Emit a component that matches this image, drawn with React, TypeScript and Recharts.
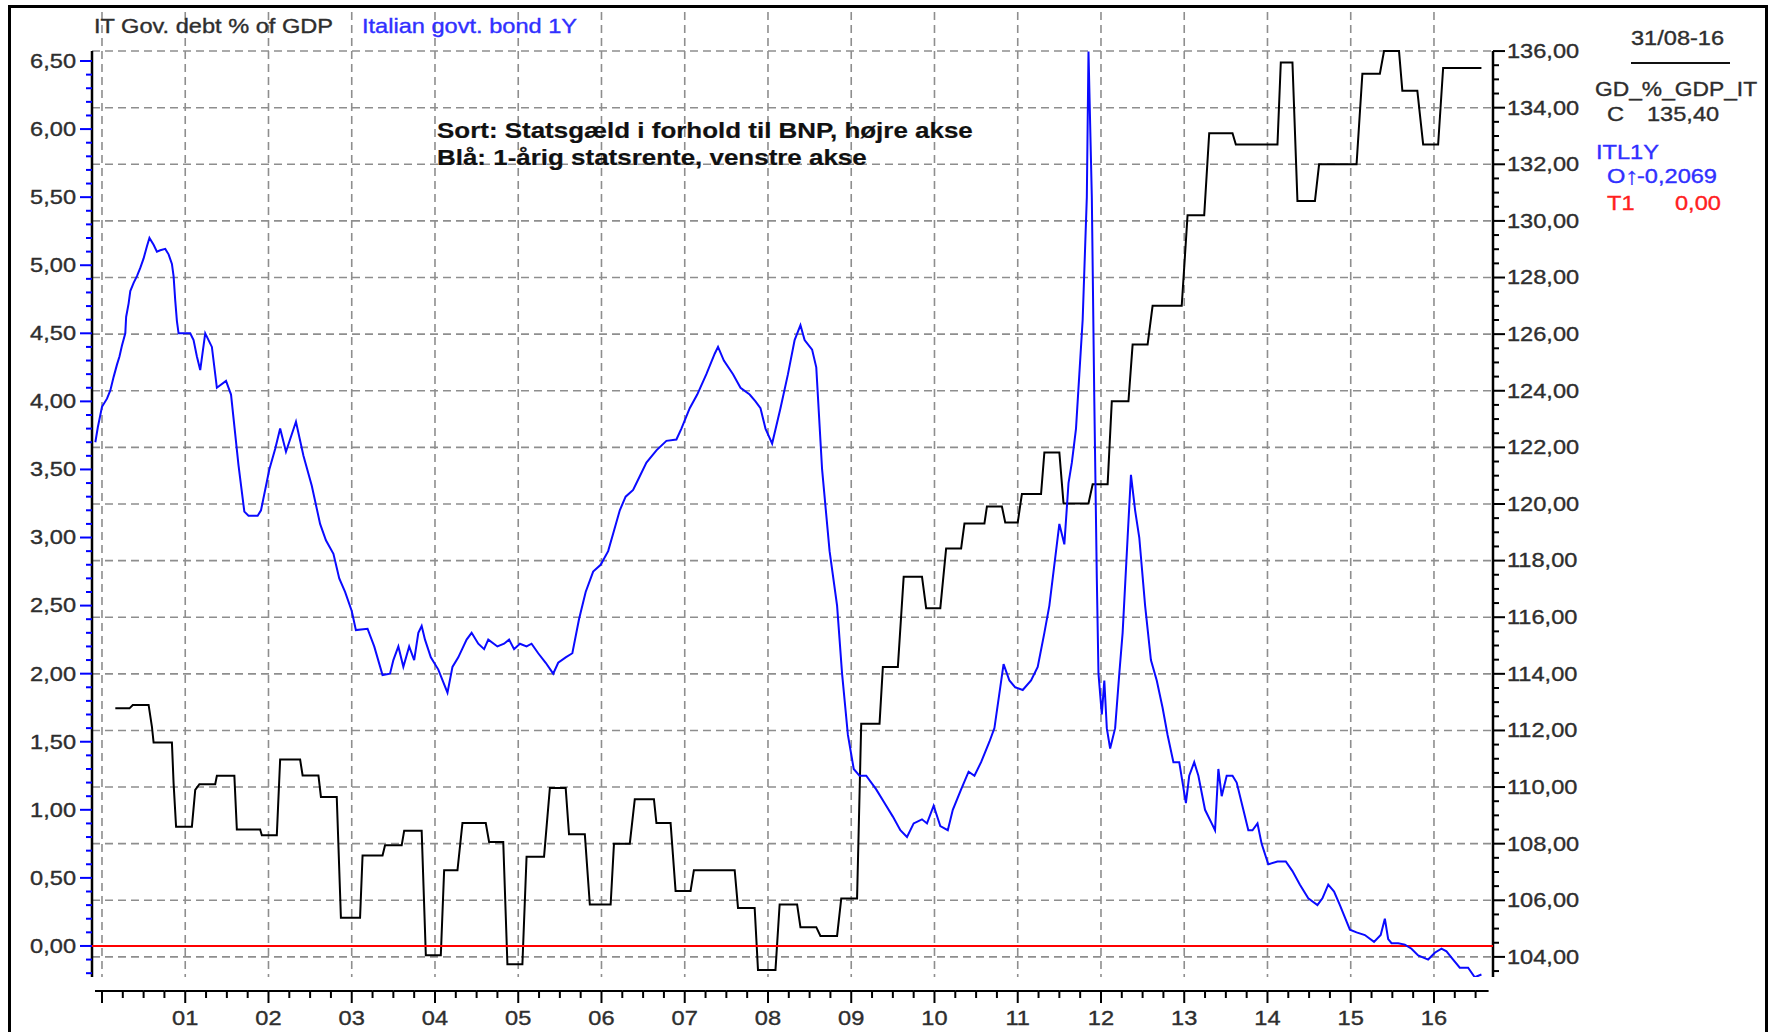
import React from 'react';
import { ComposedChart, Line, XAxis, YAxis, CartesianGrid, ReferenceLine } from 'recharts';

// ---------------- Data ----------------
// Italian govt. bond 1Y yield (left axis, %), time in decimal years
const bondDates = [
  1999.92, 1999.95, 2000.0, 2000.06, 2000.1, 2000.14, 2000.18, 2000.21, 2000.24, 2000.28, 2000.29, 2000.32,
  2000.34, 2000.38, 2000.42, 2000.46, 2000.5, 2000.54, 2000.57, 2000.62, 2000.66, 2000.7, 2000.76, 2000.8,
  2000.84, 2000.86, 2000.88, 2000.9, 2000.92, 2000.98, 2001.06, 2001.1, 2001.14, 2001.18, 2001.24, 2001.32,
  2001.38, 2001.49, 2001.55, 2001.64, 2001.71, 2001.76, 2001.87, 2001.91, 2002.01, 2002.08, 2002.14, 2002.21,
  2002.33, 2002.42, 2002.52, 2002.62, 2002.69, 2002.78, 2002.85, 2002.92, 2003.0, 2003.05, 2003.19, 2003.27,
  2003.37, 2003.46, 2003.5, 2003.56, 2003.62, 2003.69, 2003.75, 2003.8, 2003.84, 2003.88, 2003.95, 2004.04,
  2004.15, 2004.21, 2004.28, 2004.38, 2004.44, 2004.52, 2004.59, 2004.64, 2004.75, 2004.83, 2004.89, 2004.95,
  2005.02, 2005.1, 2005.16, 2005.24, 2005.33, 2005.42, 2005.48, 2005.57, 2005.65, 2005.73, 2005.81, 2005.9,
  2005.99, 2006.08, 2006.15, 2006.22, 2006.29, 2006.38, 2006.46, 2006.54, 2006.66, 2006.78, 2006.9, 2006.96,
  2007.06, 2007.15, 2007.26, 2007.36, 2007.4, 2007.47, 2007.58, 2007.67, 2007.78, 2007.85, 2007.91, 2007.97,
  2008.05, 2008.15, 2008.24, 2008.32, 2008.39, 2008.44, 2008.53, 2008.58, 2008.65, 2008.74, 2008.83, 2008.89,
  2008.96, 2009.03, 2009.1, 2009.18, 2009.3, 2009.4, 2009.5, 2009.59, 2009.67, 2009.75, 2009.85, 2009.91,
  2009.99, 2010.07, 2010.16, 2010.22, 2010.32, 2010.41, 2010.48, 2010.56, 2010.66, 2010.72, 2010.79, 2010.83,
  2010.9, 2010.97, 2011.06, 2011.16, 2011.24, 2011.32, 2011.38, 2011.46, 2011.5, 2011.56, 2011.61, 2011.65,
  2011.7, 2011.74, 2011.78, 2011.83, 2011.85, 2011.89, 2011.92, 2011.95, 2011.97, 2012.01, 2012.04, 2012.07,
  2012.11, 2012.17, 2012.22, 2012.26, 2012.32, 2012.36, 2012.41, 2012.46, 2012.53, 2012.6, 2012.67, 2012.74,
  2012.8, 2012.87, 2012.94, 2012.98, 2013.02, 2013.06, 2013.12, 2013.17, 2013.25, 2013.33, 2013.37, 2013.41,
  2013.45, 2013.51, 2013.58, 2013.63, 2013.71, 2013.77, 2013.82, 2013.88, 2013.93, 2014.01, 2014.12, 2014.22,
  2014.3, 2014.39, 2014.49, 2014.6, 2014.66, 2014.73, 2014.8, 2014.87, 2014.99, 2015.07, 2015.17, 2015.28,
  2015.36, 2015.41, 2015.45, 2015.49, 2015.57, 2015.65, 2015.73, 2015.81, 2015.93, 2016.01, 2016.09, 2016.15,
  2016.23, 2016.31, 2016.41, 2016.49, 2016.57,
];
const bondYields = [
  3.7, 3.81, 3.96, 4.02, 4.08, 4.18, 4.27, 4.33, 4.41, 4.5, 4.62, 4.72,
  4.81, 4.87, 4.92, 4.98, 5.05, 5.14, 5.2, 5.15, 5.1, 5.11, 5.12, 5.08,
  5.01, 4.92, 4.74, 4.59, 4.5, 4.5, 4.5, 4.45, 4.33, 4.23, 4.5, 4.4,
  4.1, 4.15, 4.05, 3.53, 3.19, 3.16, 3.16, 3.2, 3.5, 3.65, 3.8, 3.63,
  3.85, 3.6, 3.38, 3.1, 2.98, 2.88, 2.7, 2.6, 2.46, 2.32, 2.33, 2.2,
  1.99, 2.0, 2.1, 2.2, 2.05, 2.2, 2.1, 2.3, 2.35, 2.25, 2.12, 2.03,
  1.86, 2.05, 2.12, 2.25, 2.3, 2.22, 2.18, 2.25, 2.2, 2.22, 2.25, 2.18,
  2.22, 2.2, 2.22, 2.15, 2.08, 2.0, 2.08, 2.12, 2.15, 2.4, 2.6, 2.75,
  2.8, 2.9, 3.05, 3.2, 3.3, 3.35, 3.45, 3.55, 3.64, 3.71, 3.72, 3.8,
  3.95, 4.05, 4.2, 4.35, 4.4, 4.3, 4.2, 4.1, 4.05, 4.0, 3.95, 3.8,
  3.69, 3.95, 4.2, 4.45, 4.56, 4.45, 4.38, 4.25, 3.5, 2.9, 2.5, 2.0,
  1.55, 1.3, 1.25, 1.25, 1.15, 1.05, 0.95, 0.85, 0.8, 0.9, 0.93, 0.9,
  1.03, 0.88, 0.85, 1.0, 1.15, 1.28, 1.25, 1.35, 1.5, 1.6, 1.9, 2.07,
  1.95, 1.9, 1.88, 1.95, 2.05, 2.3, 2.5, 2.9, 3.1, 2.95, 3.4, 3.55,
  3.8, 4.2, 4.6, 5.5, 6.57, 5.5, 4.0, 2.7, 2.0, 1.7, 1.95, 1.6,
  1.45, 1.6, 2.0, 2.3, 3.0, 3.46, 3.2, 3.0, 2.5, 2.1, 1.95, 1.75,
  1.55, 1.35, 1.35, 1.2, 1.05, 1.25, 1.35, 1.25, 1.0, 0.9, 0.85, 1.3,
  1.1, 1.25, 1.25, 1.2, 1.0, 0.85, 0.85, 0.9, 0.75, 0.6, 0.62, 0.62,
  0.55, 0.45, 0.35, 0.3, 0.35, 0.45, 0.4, 0.3, 0.12, 0.1, 0.08, 0.03,
  0.08, 0.2, 0.05, 0.02, 0.02, 0.01, -0.02, -0.07, -0.1, -0.05, -0.02, -0.04,
  -0.1, -0.16, -0.16, -0.23, -0.21,
];

// IT Gov. debt % of GDP (right axis), time in decimal years
const debtDates = [
  2000.16, 2000.33, 2000.37, 2000.56, 2000.6, 2000.62, 2000.84, 2000.86, 2000.89, 2001.08, 2001.12, 2001.17,
  2001.36, 2001.38, 2001.59, 2001.62, 2001.9, 2001.92, 2002.1, 2002.14, 2002.38, 2002.41, 2002.6, 2002.63,
  2002.82, 2002.87, 2003.1, 2003.13, 2003.37, 2003.4, 2003.6, 2003.63, 2003.84, 2003.89, 2004.07, 2004.11,
  2004.27, 2004.33, 2004.61, 2004.65, 2004.82, 2004.87, 2005.05, 2005.1, 2005.31, 2005.38, 2005.57, 2005.61,
  2005.8, 2005.86, 2006.11, 2006.15, 2006.34, 2006.4, 2006.63, 2006.66, 2006.83, 2006.89, 2007.07, 2007.11,
  2007.6, 2007.64, 2007.84, 2007.88, 2008.09, 2008.14, 2008.35, 2008.39, 2008.58, 2008.63, 2008.83, 2008.88,
  2009.07, 2009.12, 2009.34, 2009.38, 2009.56, 2009.63, 2009.85, 2009.9, 2010.07, 2010.14, 2010.32, 2010.36,
  2010.6, 2010.63, 2010.81, 2010.85, 2011.0, 2011.05, 2011.28, 2011.32, 2011.5, 2011.55, 2011.85, 2011.9,
  2012.08, 2012.13, 2012.33, 2012.38, 2012.56, 2012.62, 2012.97, 2013.04, 2013.24, 2013.3, 2013.58, 2013.62,
  2014.12, 2014.16, 2014.3, 2014.36, 2014.57, 2014.62, 2015.07, 2015.14, 2015.35, 2015.4, 2015.58, 2015.62,
  2015.8, 2015.87, 2016.05, 2016.11, 2016.57,
];
const debtRatio = [
  112.78, 112.78, 112.9, 112.9, 112.13, 111.57, 111.57, 110.14, 108.6, 108.6, 109.9, 110.1,
  110.1, 110.4, 110.4, 108.5, 108.5, 108.3, 108.3, 110.97, 110.97, 110.41, 110.41, 109.65,
  109.65, 105.38, 105.38, 107.58, 107.58, 107.94, 107.94, 108.46, 108.46, 104.06, 104.06, 107.06,
  107.06, 108.73, 108.73, 108.06, 108.06, 103.74, 103.74, 107.54, 107.54, 109.97, 109.97, 108.33,
  108.33, 105.85, 105.85, 108.0, 108.0, 109.57, 109.57, 108.73, 108.73, 106.33, 106.33, 107.06,
  107.06, 105.73, 105.73, 103.54, 103.54, 105.85, 105.85, 105.05, 105.05, 104.74, 104.74, 106.06,
  106.06, 112.24, 112.24, 114.24, 114.24, 117.43, 117.43, 116.32, 116.32, 118.43, 118.43, 119.31,
  119.31, 119.91, 119.91, 119.35, 119.35, 120.35, 120.35, 121.82, 121.82, 120.02, 120.02, 120.7,
  120.7, 123.63, 123.63, 125.63, 125.63, 127.0, 127.0, 130.2, 130.2, 133.1, 133.1, 132.7,
  132.7, 135.6, 135.6, 130.7, 130.7, 132.0, 132.0, 135.2, 135.2, 136.0, 136.0, 134.6,
  134.6, 132.7, 132.7, 135.4, 135.4,
];

const yearGrid = [2000, 2001, 2002, 2003, 2004, 2005, 2006, 2007, 2008, 2009, 2010, 2011, 2012, 2013, 2014, 2015, 2016];
const yearLabels = ['', '01', '02', '03', '04', '05', '06', '07', '08', '09', '10', '11', '12', '13', '14', '15', '16'];
const rightGrid = [104, 106, 108, 110, 112, 114, 116, 118, 120, 122, 124, 126, 128, 130, 132, 134, 136];

const titleDebt = 'IT Gov. debt % of GDP';
const titleBond = 'Italian govt. bond 1Y';
const noteLines = ['Sort: Statsgæld i forhold til BNP, højre akse', 'Blå: 1-årig statsrente, venstre akse'];
const legendDate = '31/08-16';
const legendDebtName = 'GD_%_GDP_IT';
const legendDebtValue = '135,40';
const legendBondName = 'ITL1Y';
const legendBondValue = '-0,2069';
const legendT1Value = '0,00';

// ---------------- Layout constants ----------------
const X_MIN = 1999.88;
const X_MAX = 2016.709;
const L_MIN = -0.228;
const L_MAX = 6.86;
const L_AXIS_TOP = 6.574;
const R_MIN = 103.29;
const R_MAX = 137.38;
const R_AXIS_TOP = 136;

const quarterTicks: number[] = [];
for (let k = 0; k <= 66; k++) quarterTicks.push(2000 + k / 4);
const leftTicks: number[] = [];
for (let k = -2; k <= 65; k++) leftTicks.push(k / 10);
const rightTicks: number[] = [];
for (let k = 207; k <= 272; k++) rightTicks.push(k / 2);

const rows = [
  ...bondDates.map((t, i) => ({ t, bond: bondYields[i] })),
  ...debtDates.map((t, i) => ({ t, debt: debtRatio[i] })),
].sort((a: any, b: any) => a.t - b.t);

const FONT = "'Liberation Sans', Arial, Helvetica, sans-serif";
const SX = 1.18;
const TXT = '#2e2e2e';
const BLUE_TXT = '#3030ff';

function STxt({ x, y, children, fill = TXT, anchor = 'start', size = 20, weight = 'normal', sx = SX }: any) {
  return (
    <text
      transform={`translate(${x},${y}) scale(${sx},1)`}
      x={0}
      y={0}
      fill={fill}
      stroke={fill}
      strokeWidth={weight === 'bold' ? 0.2 : 0.35}
      fontFamily={FONT}
      fontSize={size}
      fontWeight={weight}
      textAnchor={anchor}
      dominantBaseline="central"
    >
      {children}
    </text>
  );
}

const fmt = (v: number) => v.toFixed(2).replace('.', ',');

const XTick = (props: any) => {
  const { x, y, payload, index } = props;
  const v = payload.value;
  const major = Math.abs(v - Math.round(v)) < 1e-6;
  const ay = y + 14;
  const last = index === quarterTicks.length - 1;
  const yi = yearGrid.indexOf(Math.round(v));
  return (
    <g>
      <line x1={index === 0 ? x - 7 : x} x2={last ? x + 13 : x + 21} y1={ay} y2={ay} stroke="#000" strokeWidth={2} />
      <line x1={x} x2={x} y1={ay} y2={ay + (major ? 12 : 7)} stroke="#000" strokeWidth={2} />
      {major && yi > 0 && (
        <STxt x={x} y={ay + 27} anchor="middle">
          {yearLabels[yi]}
        </STxt>
      )}
    </g>
  );
};

const LTick = (props: any) => {
  const { x, y, payload } = props;
  const v = payload.value;
  const major = Math.abs(v * 2 - Math.round(v * 2)) < 1e-6;
  return (
    <g>
      <line x1={x - (major ? 12 : 6)} x2={x} y1={y} y2={y} stroke="#0000ff" strokeWidth={2} />
      {major && (
        <STxt x={x - 16} y={y} anchor="end">
          {fmt(v)}
        </STxt>
      )}
    </g>
  );
};

const RTick = (props: any) => {
  const { x, y, payload } = props;
  const v = payload.value;
  const major = Math.abs(v / 2 - Math.round(v / 2)) < 1e-6;
  return (
    <g>
      <line x1={x} x2={x + (major ? 12 : 6)} y1={y} y2={y} stroke="#000" strokeWidth={2} />
      {major && (
        <STxt x={x + 14} y={y} anchor="start">
          {fmt(v)}
        </STxt>
      )}
    </g>
  );
};

export default function App() {
  return (
    <div style={{ position: 'absolute', left: 0, top: 0, width: 1773, height: 1032, background: '#fff', overflow: 'hidden' }}>
      <div style={{ position: 'absolute', left: 0, top: 0 }}>
        <ComposedChart width={1773} height={1032} data={rows} margin={{ top: 12, right: 180, bottom: 15, left: 12 }}>
          <CartesianGrid
            xAxisId="x"
            yAxisId="right"
            horizontalValues={rightGrid}
            verticalValues={yearGrid}
            stroke="#8e8e8e"
            strokeWidth={1.6}
            strokeDasharray="8 5"
          />
          <XAxis
            xAxisId="x"
            dataKey="t"
            type="number"
            domain={[X_MIN, X_MAX]}
            ticks={quarterTicks}
            interval={0}
            allowDataOverflow
            axisLine={false}
            tickLine={false}
            tickSize={0}
            tickMargin={0}
            height={40}
            tick={<XTick />}
          />
          <YAxis
            yAxisId="left"
            orientation="left"
            type="number"
            domain={[L_MIN, L_MAX]}
            ticks={leftTicks}
            interval={0}
            allowDataOverflow
            axisLine={false}
            tickLine={false}
            tickSize={0}
            tickMargin={0}
            width={80}
            tick={<LTick />}
          />
          <YAxis
            yAxisId="right"
            orientation="right"
            type="number"
            domain={[R_MIN, R_MAX]}
            ticks={rightTicks}
            interval={0}
            allowDataOverflow
            axisLine={false}
            tickLine={false}
            tickSize={0}
            tickMargin={0}
            width={100}
            tick={<RTick />}
          />
          <ReferenceLine
            xAxisId="x"
            yAxisId="left"
            segment={[{ x: X_MIN, y: L_MIN }, { x: X_MIN, y: L_AXIS_TOP }]}
            stroke="#000"
            strokeWidth={2.5}
          />
          <ReferenceLine
            xAxisId="x"
            yAxisId="right"
            segment={[{ x: X_MAX, y: R_MIN }, { x: X_MAX, y: R_AXIS_TOP }]}
            stroke="#000"
            strokeWidth={2.5}
          />
          <Line
            xAxisId="x"
            yAxisId="right"
            type="linear"
            dataKey="debt"
            stroke="#000000"
            strokeWidth={2}
            dot={false}
            connectNulls
            isAnimationActive={false}
          />
          <ReferenceLine xAxisId="x" yAxisId="left" y={0} stroke="#ff0000" strokeWidth={2} />
          <Line
            xAxisId="x"
            yAxisId="left"
            type="linear"
            dataKey="bond"
            stroke="#0a0aff"
            strokeWidth={2}
            dot={false}
            connectNulls
            isAnimationActive={false}
          />
        </ComposedChart>
      </div>
      <svg width={1773} height={1032} style={{ position: 'absolute', left: 0, top: 0, pointerEvents: 'none' }}>
        <STxt x={94} y={26}>{titleDebt}</STxt>
        <STxt x={362} y={26} fill={BLUE_TXT}>{titleBond}</STxt>
        <STxt x={437} y={130} size={22} weight="bold" fill="#111">{noteLines[0]}</STxt>
        <STxt x={437} y={157} size={22} weight="bold" fill="#111">{noteLines[1]}</STxt>
        <STxt x={1631} y={38}>{legendDate}</STxt>
        <line x1={1631} x2={1730} y1={63} y2={63} stroke="#111" strokeWidth={2} />
        <STxt x={1595} y={89} sx={1.14}>{legendDebtName}</STxt>
        <STxt x={1607} y={114}>C</STxt>
        <STxt x={1647} y={114}>{legendDebtValue}</STxt>
        <STxt x={1596} y={152} fill={BLUE_TXT}>{legendBondName}</STxt>
        <STxt x={1607} y={176} fill={BLUE_TXT}>O</STxt>
        <STxt x={1625} y={176} fill={BLUE_TXT} size={24} weight="bold">↑</STxt>
        <STxt x={1637} y={176} fill={BLUE_TXT}>{legendBondValue}</STxt>
        <STxt x={1607} y={203} fill="#ff2020">T1</STxt>
        <STxt x={1675} y={203} fill="#ff2020">{legendT1Value}</STxt>
      </svg>
      <div
        style={{
          position: 'absolute',
          left: 8,
          top: 5,
          width: 1760,
          height: 1100,
          border: '3px solid #000',
          boxSizing: 'border-box',
          pointerEvents: 'none',
        }}
      />
    </div>
  );
}
